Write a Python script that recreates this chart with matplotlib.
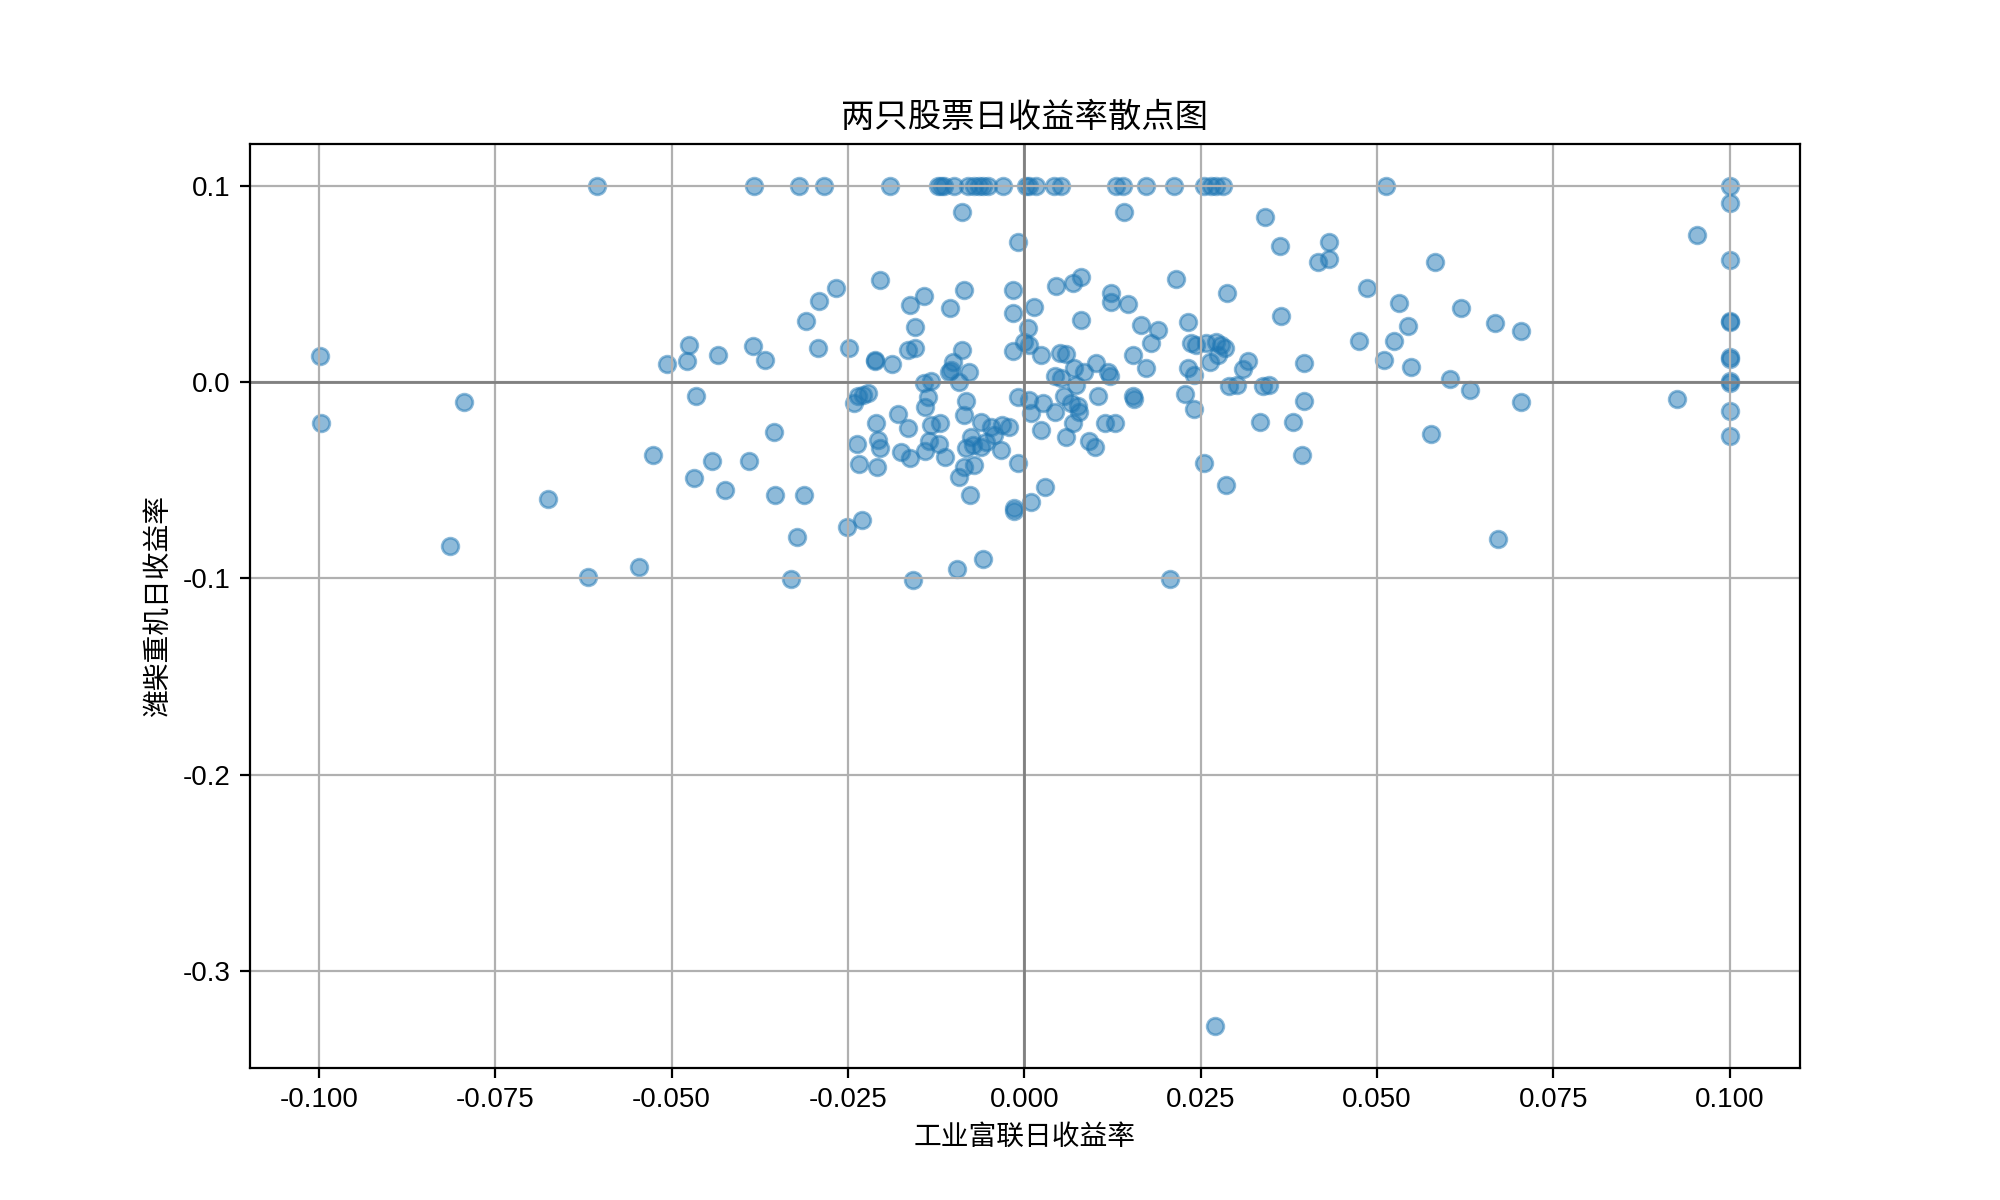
import matplotlib
matplotlib.use("Agg")
import matplotlib.pyplot as plt
import numpy as np

plt.rcParams['font.family'] = ['Liberation Sans', 'Noto Sans CJK SC', 'DejaVu Sans']
plt.rcParams['axes.unicode_minus'] = False

title = "两只股票日收益率散点图"
xlabel = "工业富联日收益率"
ylabel = "潍柴重机日收益率"

# 工业富联 daily returns
x_ret = [
    # top row (limit-up for 潍柴重机)
    -0.0606, -0.0383, -0.0320, -0.0284, -0.0191, -0.0123, -0.0118, -0.0114, -0.0100, -0.0080,
    -0.0071, -0.0064, -0.0059, -0.0052, -0.0030, 0.0002, 0.0007, 0.0017, 0.0042, 0.0052,
    0.0130, 0.0140, 0.0173, 0.0212, 0.0255, 0.0265, 0.0272, 0.0282, 0.0513, 0.1000,
    # far left
    -0.0998, -0.0997, -0.0794, -0.0676, -0.0814,
    -0.0507, -0.0478, -0.0475, -0.0435, -0.0385, -0.0368,
    -0.0465, -0.0526, -0.0443, -0.0469, -0.0391, -0.0424, -0.0355, -0.0353, -0.0547, -0.0618,
    # left-centre
    -0.0088, -0.0205, -0.0267, -0.0291, -0.0309, -0.0142, -0.0162, -0.0105, -0.0085, -0.0155,
    -0.0165, -0.0155, -0.0293, -0.0248, -0.0212, -0.0211, -0.0187, -0.0088, -0.0101, -0.0104,
    -0.0107, -0.0078, -0.0142, -0.0132, -0.0093,
    -0.0241, -0.0236, -0.0229, -0.0221, -0.0210, -0.0237, -0.0208, -0.0205, -0.0234, -0.0209,
    -0.0179, -0.0165, -0.0175, -0.0162, -0.0141, -0.0137, -0.0132, -0.0120, -0.0135, -0.0121,
    -0.0141, -0.0113, -0.0093, -0.0312, -0.0322, -0.0331, -0.0251, -0.0230, -0.0158, -0.0095,
    # centre below zero
    -0.0083, -0.0085, -0.0061, -0.0047, -0.0031, -0.0021, -0.0076, -0.0043, -0.0083, -0.0073,
    -0.0061, -0.0054, -0.0033, -0.0071, -0.0086, -0.0077, -0.0009, -0.0015, -0.0014, -0.0058,
    0.0010, 0.0029, 0.0024, -0.0009, 0.0007, 0.0010, 0.0026, 0.0043, 0.0057, 0.0066,
    0.0076, 0.0078, 0.0069, 0.0059, 0.0104, 0.0114, 0.0128, 0.0092, 0.0100, 0.0154,
    0.0156, 0.0073,
    # centre above zero
    -0.0009, -0.0016, -0.0016, 0.0014, 0.0045, 0.0069, 0.0080, 0.0123, 0.0123, 0.0147,
    0.0080, 0.0165, 0.0005, 0.0000, 0.0007, -0.0016, 0.0024, 0.0050, 0.0059, 0.0154,
    0.0102, 0.0071, 0.0085, 0.0043, 0.0052, 0.0118, 0.0121,
    # right-centre
    0.0142, 0.0341, 0.0363, 0.0215, 0.0288, 0.0364, 0.0232, 0.0189, 0.0179, 0.0173,
    0.0237, 0.0244, 0.0258, 0.0272, 0.0279, 0.0284, 0.0275, 0.0263, 0.0232, 0.0241,
    0.0317, 0.0310, 0.0397, 0.0290, 0.0302, 0.0338, 0.0347,
    0.0228, 0.0241, 0.0397, 0.0334, 0.0381, 0.0394, 0.0255, 0.0286, 0.0207,
    # right
    0.0432, 0.0416, 0.0432, 0.0582, 0.0486, 0.0531, 0.0619, 0.0544, 0.0524, 0.0474,
    0.0667, 0.0705, 0.0510, 0.0549, 0.0603, 0.0632, 0.0704, 0.0577, 0.0671,
    # far right
    0.0954, 0.1000, 0.1000, 0.1000, 0.1000, 0.1000, 0.1000, 0.1000, 0.1000, 0.0925,
    0.1000, 0.1000,
    # outlier
    0.0271,
]

# 潍柴重机 daily returns
y_ret = [
    0.1000, 0.1000, 0.1000, 0.1000, 0.1000, 0.1000, 0.1000, 0.1000, 0.1000, 0.1000,
    0.1000, 0.1000, 0.1000, 0.1000, 0.1000, 0.1000, 0.1000, 0.1000, 0.1000, 0.1000,
    0.1000, 0.1000, 0.1000, 0.1000, 0.1000, 0.1000, 0.1000, 0.1000, 0.1000, 0.1000,
    0.0134, -0.0207, -0.0100, -0.0596, -0.0834,
    0.0093, 0.0109, 0.0190, 0.0139, 0.0185, 0.0114,
    -0.0070, -0.0371, -0.0403, -0.0490, -0.0403, -0.0550, -0.0254, -0.0577, -0.0944, -0.0993,
    0.0869, 0.0522, 0.0481, 0.0415, 0.0313, 0.0440, 0.0394, 0.0379, 0.0471, 0.0282,
    0.0165, 0.0175, 0.0175, 0.0175, 0.0114, 0.0109, 0.0093, 0.0165, 0.0104, 0.0063,
    0.0053, 0.0054, -0.0004, 0.0007, 0.0002,
    -0.0106, -0.0070, -0.0065, -0.0055, -0.0208, -0.0315, -0.0294, -0.0335, -0.0417, -0.0432,
    -0.0162, -0.0233, -0.0355, -0.0386, -0.0126, -0.0075, -0.0218, -0.0208, -0.0299, -0.0315,
    -0.0350, -0.0381, -0.0485, -0.0575, -0.0789, -0.1003, -0.0738, -0.0703, -0.1008, -0.0952,
    -0.0094, -0.0167, -0.0201, -0.0227, -0.0218, -0.0227, -0.0278, -0.0269, -0.0337, -0.0320,
    -0.0329, -0.0303, -0.0345, -0.0422, -0.0431, -0.0575, -0.0413, -0.0643, -0.0655, -0.0903,
    -0.0609, -0.0533, -0.0243, -0.0077, -0.0090, -0.0158, -0.0107, -0.0150, -0.0073, -0.0107,
    -0.0124, -0.0150, -0.0209, -0.0281, -0.0070, -0.0209, -0.0209, -0.0298, -0.0332, -0.0073,
    -0.0088, -0.0014,
    0.0717, 0.0471, 0.0355, 0.0381, 0.0491, 0.0505, 0.0534, 0.0454, 0.0411, 0.0398,
    0.0318, 0.0289, 0.0276, 0.0207, 0.0190, 0.0160, 0.0136, 0.0148, 0.0144, 0.0136,
    0.0097, 0.0071, 0.0054, 0.0029, 0.0020, 0.0054, 0.0029,
    0.0870, 0.0842, 0.0695, 0.0526, 0.0454, 0.0338, 0.0309, 0.0267, 0.0199, 0.0071,
    0.0202, 0.0190, 0.0202, 0.0207, 0.0190, 0.0173, 0.0139, 0.0105, 0.0071, 0.0037,
    0.0110, 0.0066, 0.0097, -0.0020, -0.0014, -0.0020, -0.0012,
    -0.0060, -0.0138, -0.0094, -0.0204, -0.0204, -0.0371, -0.0413, -0.0524, -0.1005,
    0.0712, 0.0614, 0.0628, 0.0612, 0.0480, 0.0403, 0.0379, 0.0287, 0.0209, 0.0209,
    0.0301, 0.0260, 0.0112, 0.0078, 0.0015, -0.0039, -0.0102, -0.0265, -0.0800,
    0.0752, 0.0913, 0.0624, 0.0313, 0.0305, 0.0128, 0.0118, 0.0008, -0.0002, -0.0085,
    -0.0145, -0.0274,
    -0.3282,
]

x = np.array(x_ret)
y = np.array(y_ret)

fig, ax = plt.subplots(figsize=(10, 6), dpi=200)
ax.scatter(x, y, alpha=0.5)
ax.set_title(title)
ax.set_xlabel(xlabel)
ax.set_ylabel(ylabel)
ax.axhline(0, color='gray', linewidth=1)
ax.axvline(0, color='gray', linewidth=1)
ax.grid(True)
fig.savefig("out.png", dpi=200)
